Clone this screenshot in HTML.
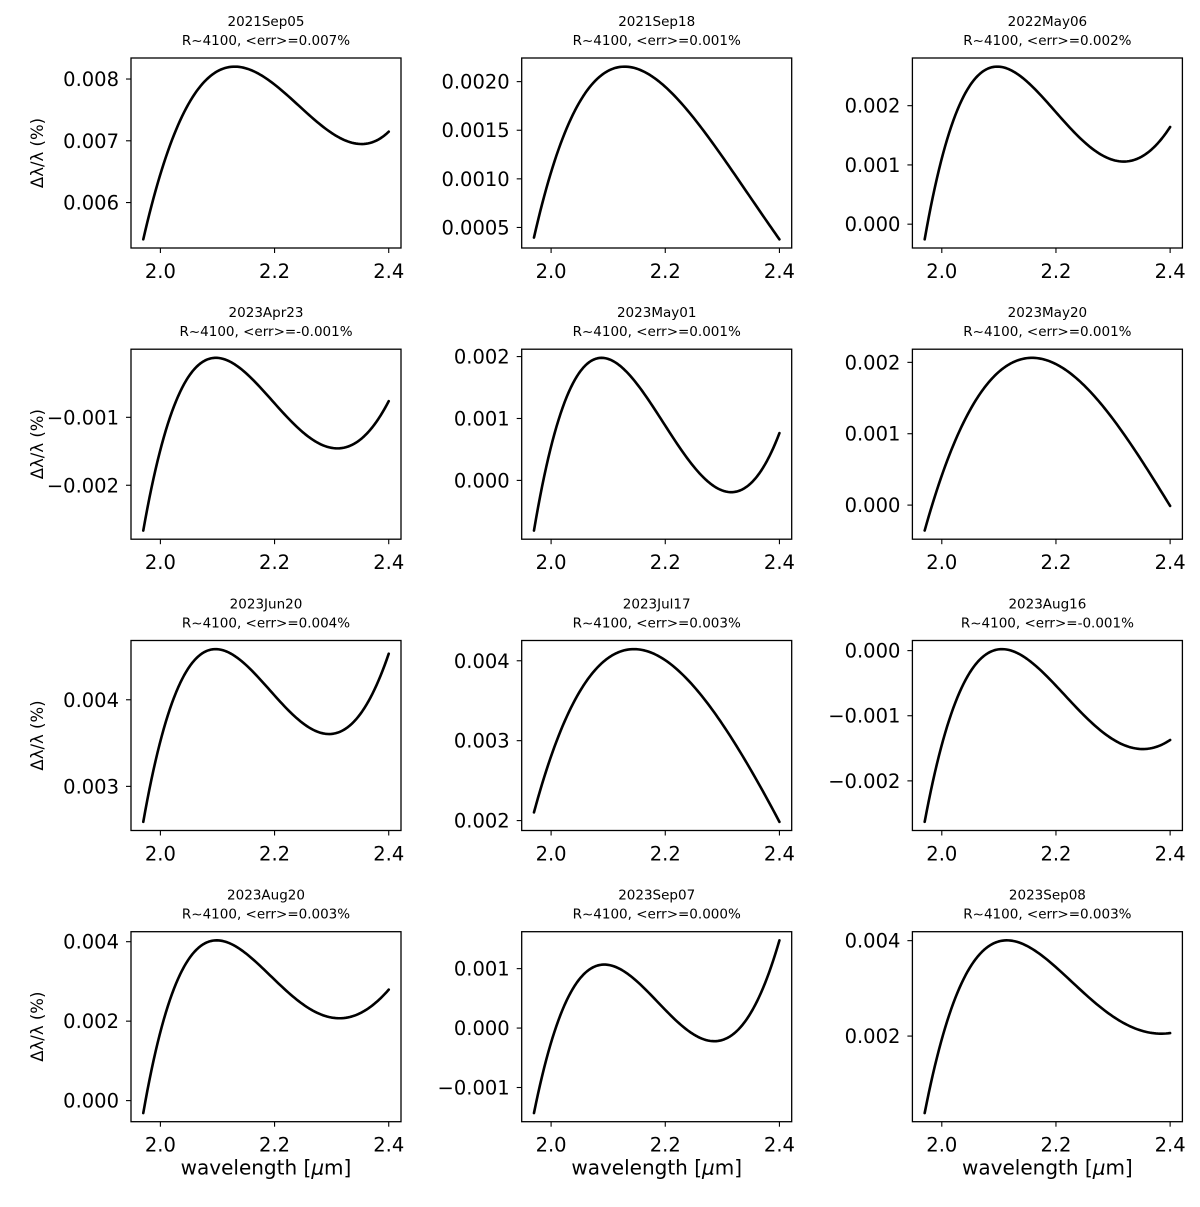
<!DOCTYPE html>
<html><head><meta charset="utf-8"><style>
html,body{margin:0;padding:0;background:#fff;}
svg text{font-family:"DejaVu Sans","Liberation Sans",sans-serif;fill:#000;}
</style></head><body>
<svg id="fig" width="1200" height="1202" viewBox="0 0 1200 1202" xmlns="http://www.w3.org/2000/svg"></svg>
<script>
const wavelengths = [1.97, 2.0, 2.05, 2.1, 2.15, 2.2, 2.25, 2.3, 2.35, 2.4];
const titles = ["2021Sep05","2021Sep18","2022May06","2023Apr23","2023May01","2023May20","2023Jun20","2023Jul17","2023Aug16","2023Aug20","2023Sep07","2023Sep08"];
const errLabels = ["0.007","0.001","0.002","-0.001","0.001","0.001","0.004","0.003","-0.001","0.003","0.000","0.003"];
const s0 = [0.00538,0.00652,0.00756,0.0081,0.00824,0.0079,0.00748,0.00712,0.00697,0.00714];
const s1 = [0.00038,0.0011,0.00178,0.0021,0.00213,0.00196,0.00163,0.00122,0.0008,0.00038];
const s2 = [-0.0003,0.0012,0.0023,0.00265,0.0024,0.0019,0.0014,0.00108,0.00112,0.00165];
const s3 = [-0.00275,-0.0013,-0.0005,-0.00016,-0.0003,-0.0008,-0.0012,-0.00146,-0.00135,-0.00075];
const s4 = [-0.00083,0.0006,0.0017,0.00195,0.0016,0.0009,0.0002,-0.0002,0.0,0.00075];
const s5 = [-0.0004,0.0005,0.0013,0.00185,0.00206,0.00198,0.0017,0.0012,0.0006,0.0];
const s6 = [0.0025,0.0037,0.0043,0.00453,0.0044,0.0041,0.00375,0.00359,0.0038,0.00455];
const s7 = [0.00205,0.0029,0.0036,0.00398,0.00413,0.00405,0.0037,0.0032,0.0026,0.002];
const s8 = [-0.0027,-0.0013,-0.0004,-0.00003,-0.0001,-0.0005,-0.001,-0.0014,-0.0015,-0.00137];
const s9 = [-0.0005,0.0021,0.0034,0.00395,0.0037,0.0031,0.0025,0.00208,0.0021,0.00284];
const s10 = [-0.00145,-0.0002,0.0008,0.00106,0.0008,0.0003,-0.0001,-0.0002,0.00025,0.00148];
const s11 = [0.0003,0.0021,0.0034,0.0039,0.0039,0.0035,0.0029,0.0024,0.00208,0.00208];
const series = [s0,s1,s2,s3,s4,s5,s6,s7,s8,s9,s10,s11];
const xTicks = [2.0, 2.2, 2.4];
const xTickLabels = ["2.0","2.2","2.4"];
const yTicks = [[0.006,0.007,0.008],[0.0005,0.001,0.0015,0.002],[0,0.001,0.002],[-0.002,-0.001],[0,0.001,0.002],[0,0.001,0.002],[0.003,0.004],[0.002,0.003,0.004],[-0.002,-0.001,0],[0,0.002,0.004],[-0.001,0,0.001],[0.002,0.004]];
const yTickLabels = [["0.006","0.007","0.008"],["0.0005","0.0010","0.0015","0.0020"],["0.000","0.001","0.002"],["\u22120.002","\u22120.001"],["0.000","0.001","0.002"],["0.000","0.001","0.002"],["0.003","0.004"],["0.002","0.003","0.004"],["\u22120.002","\u22120.001","0.000"],["0.000","0.002","0.004"],["\u22120.001","0.000","0.001"],["0.002","0.004"]];

const NS = "http://www.w3.org/2000/svg";
const fig = document.getElementById('fig');
function mk(tag, attrs, parent){const e=document.createElementNS(NS,tag);for(const k in attrs)e.setAttribute(k,attrs[k]);(parent||fig).appendChild(e);return e;}
function polyfit(xs, ys, deg){
  const n=deg+1, A=[];
  for(let i=0;i<n;i++){A.push(new Array(n+1).fill(0));}
  xs.forEach((x,k)=>{const t=(x-2.185)*10;
    for(let i=0;i<n;i++){for(let j=0;j<n;j++)A[i][j]+=Math.pow(t,i+j);A[i][n]+=Math.pow(t,i)*ys[k];}});
  for(let i=0;i<n;i++){let p=i;for(let r=i+1;r<n;r++)if(Math.abs(A[r][i])>Math.abs(A[p][i]))p=r;[A[i],A[p]]=[A[p],A[i]];
    for(let r=0;r<n;r++){if(r===i)continue;const f=A[r][i]/A[i][i];for(let c=i;c<=n;c++)A[r][c]-=f*A[i][c];}}
  const co=A.map((row,i)=>row[n]/row[i]);
  return x=>{const t=(x-2.185)*10;let s=0;for(let i=n-1;i>=0;i--)s=s*t+co[i];return s;};
}
const W=270, H=190;
const colX=[131,521.7,912.4], rowY=[58,349.2,640.5,931.7];
const xmin=1.97-0.0215, xmax=2.4+0.0215;

for(let i=0;i<12;i++){
  const c=i%3, r=Math.floor(i/3);
  const L=colX[c], T=rowY[r];
  const vals=series[i];
  const f=polyfit(wavelengths, vals, 4);
  const dense=[];for(let k=0;k<=120;k++){const w=1.97+0.43*k/120;dense.push([w,f(w)]);}
  const fv=dense.map(p=>p[1]);
  const mn=Math.min(...fv), mx=Math.max(...fv), m=(mx-mn)*0.05;
  const y0=mn-m, y1=mx+m;
  const sx=v=>L+(v-xmin)/(xmax-xmin)*W;
  const sy=v=>T+H-(v-y0)/(y1-y0)*H;
  const g=mk('g',{});
  
  
  const t1=mk('text',{x:L+W/2,y:T-32,'text-anchor':'middle','font-size':'13.5'},g);
  t1.textContent=titles[i];
  
  
  const t2=mk('text',{x:L+W/2,y:T-13,'text-anchor':'middle','font-size':'13.5'},g);
  t2.textContent='R~4100, <err>='+errLabels[i]+'%';
  
  
  const d=dense.map((p,k)=>(k?'L':'M')+sx(p[0]).toFixed(2)+','+sy(p[1]).toFixed(2)).join(' ');
  const path=mk('path',{d:d,fill:'none',stroke:'#000','stroke-width':'2.6','stroke-linecap':'round','stroke-linejoin':'round'},g);
  
  
  const box=mk('rect',{x:L,y:T,width:W,height:H,fill:'none',stroke:'#000','stroke-width':'1.3'},g);
  
  
  xTicks.forEach((v,k)=>{
    const x=sx(v);
    mk('line',{x1:x,y1:T+H,x2:x,y2:T+H+5,stroke:'#000','stroke-width':'1.1'},g);
    const tl=mk('text',{x:x,y:T+H+30,'text-anchor':'middle','font-size':'19.5'},g);
    tl.textContent=xTickLabels[k];
    
    
  });
  yTicks[i].forEach((v,k)=>{
    const y=sy(v);
    mk('line',{x1:L-5,y1:y,x2:L,y2:y,stroke:'#000','stroke-width':'1.1'},g);
    const tl=mk('text',{x:L-12,y:y+7,'text-anchor':'end','font-size':'19.5'},g);
    tl.textContent=yTickLabels[i][k];
    
    
  });
  if(c===0){
    const yl=mk('text',{x:0,y:0,'text-anchor':'middle','font-size':'16.5',transform:'translate(43,'+(T+H/2)+') rotate(-90)'},g);
    yl.textContent='\u0394\u03bb/\u03bb (%)';
    
    
  }
  if(r===3){
    const xl=mk('text',{x:L+W/2,y:T+H+53,'text-anchor':'middle','font-size':'20'},g);
    xl.innerHTML='wavelength [<tspan font-style="italic">\u03bc</tspan>m]';
    
    
  }
}
</script>
</body></html>
